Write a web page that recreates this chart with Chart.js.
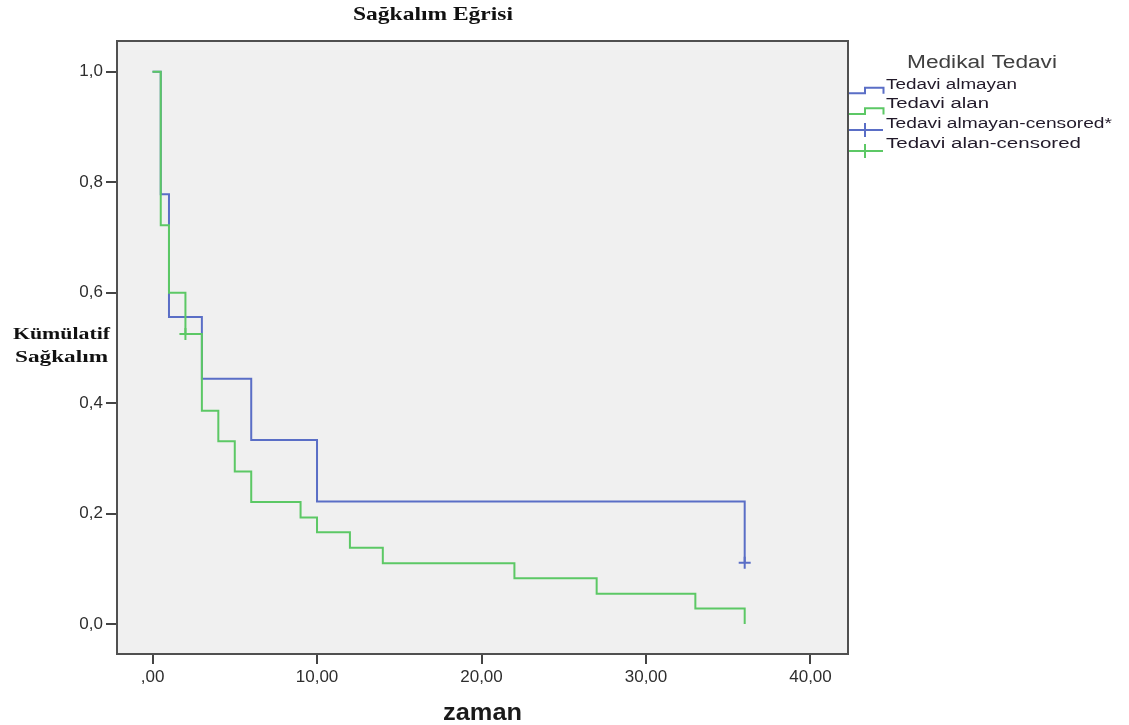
<!DOCTYPE html>
<html>
<head>
<meta charset="utf-8">
<script src="https://cdn.jsdelivr.net/npm/chart.js@4/dist/chart.umd.min.js"></script>
<style>
  html, body { margin: 0; padding: 0; background: #ffffff; }
  #wrap { width: 1129px; height: 725px; position: relative; }
</style>
</head>
<body>
<div id="wrap"><canvas id="c"></canvas></div>
<script>
// ---- data ----
const groupNames = ['Tedavi almayan', 'Tedavi alan'];
const legendLabels = ['Tedavi almayan', 'Tedavi alan', 'Tedavi almayan-censored*', 'Tedavi alan-censored'];

const almayanTimes    = [0, 0.5, 1, 3, 6, 10, 36];
const almayanSurvival = [1.0, 0.778, 0.556, 0.444, 0.333, 0.222, 0.111];

const alanTimes    = [0, 0.5, 1, 2, 3, 4, 5, 6, 9, 10, 12, 14, 22, 27, 33, 36];
const alanSurvival = [1.0, 0.722, 0.6, 0.525, 0.386, 0.331, 0.276, 0.221, 0.193, 0.166, 0.138, 0.110, 0.083, 0.055, 0.028, 0.0];

const almayanCensoredTimes    = [36];
const almayanCensoredSurvival = [0.111];
const alanCensoredTimes    = [2];
const alanCensoredSurvival = [0.525];

const xTicks = [0, 10, 20, 30, 40];
const xTickLabels = [',00', '10,00', '20,00', '30,00', '40,00'];
const yTicks = [0, 0.2, 0.4, 0.6, 0.8, 1.0];
const yTickLabels = ['0,0', '0,2', '0,4', '0,6', '0,8', '1,0'];

const chartTitle = 'Sağkalım Eğrisi';
const yTitleLines = ['Kümülatif', 'Sağkalım'];
const xTitle = 'zaman';
const legendTitle = 'Medikal Tedavi';

// ---- styles ----
const BLUE = '#5a6ec6';
const GREEN = '#5cc865';
const toPts = (xs, ys) => xs.map((x, i) => ({ x: x, y: ys[i] }));

function fitText(ctx, text, font, color, x, baseline, targetWidth) {
  ctx.save();
  ctx.font = font;
  ctx.fillStyle = color;
  ctx.textBaseline = 'alphabetic';
  ctx.textAlign = 'left';
  const w = ctx.measureText(text).width;
  const sx = targetWidth / w;
  ctx.translate(x, baseline);
  ctx.scale(sx, 1);
  ctx.fillText(text, 0, 0);
  ctx.restore();
}

const decorPlugin = {
  id: 'decor',
  beforeDraw(chart) {
    const { ctx, chartArea: a } = chart;
    ctx.save();
    ctx.fillStyle = '#f0f0f0';
    ctx.fillRect(a.left, a.top, a.right - a.left, a.bottom - a.top);
    ctx.restore();
  },
  afterDraw(chart) {
    const { ctx, chartArea: a } = chart;
    ctx.save();
    ctx.strokeStyle = '#505050';
    ctx.lineWidth = 2;
    ctx.strokeRect(a.left, a.top, a.right - a.left, a.bottom - a.top);
    ctx.restore();

    fitText(ctx, chartTitle, 'bold 19px "Liberation Serif", "Times New Roman", serif', '#111', 353, 20, 160);
    fitText(ctx, yTitleLines[0], 'bold 17px "Liberation Serif", "Times New Roman", serif', '#111', 13, 339, 97);
    fitText(ctx, yTitleLines[1], 'bold 17px "Liberation Serif", "Times New Roman", serif', '#111', 15, 362, 93);
    fitText(ctx, xTitle, 'bold 23px "Liberation Sans", Arial, sans-serif', '#1a1a1a', 443, 720, 79);

    const lx = a.right + 1;
    fitText(ctx, legendTitle, '18px "Liberation Sans", Arial, sans-serif', '#404040', 907, 68, 150);
    const rows = [
      { label: legendLabels[0], color: BLUE, kind: 'step', base: 93.3, top: 87.7, textBase: 88.5, w: 131 },
      { label: legendLabels[1], color: GREEN, kind: 'step', base: 114, top: 108.3, textBase: 108.3, w: 103 },
      { label: legendLabels[2], color: BLUE, kind: 'cross', y: 130, textBase: 127.5, w: 226 },
      { label: legendLabels[3], color: GREEN, kind: 'cross', y: 151, textBase: 147.5, w: 195 }
    ];
    rows.forEach(r => {
      ctx.save();
      ctx.strokeStyle = r.color;
      ctx.lineWidth = 2;
      ctx.beginPath();
      if (r.kind === 'step') {
        ctx.moveTo(lx, r.base);
        ctx.lineTo(865, r.base);
        ctx.lineTo(865, r.top);
        ctx.lineTo(883.5, r.top);
        ctx.lineTo(883.5, r.base + 0.5);
      } else {
        ctx.moveTo(lx, r.y);
        ctx.lineTo(883, r.y);
        ctx.moveTo(865, r.y - 7);
        ctx.lineTo(865, r.y + 7);
      }
      ctx.stroke();
      ctx.restore();
      fitText(ctx, r.label, '14px "Liberation Sans", Arial, sans-serif', '#221a2a', 886, r.textBase, r.w);
    });
  }
};

const ctx = document.getElementById('c').getContext('2d');
new Chart(ctx, {
  type: 'scatter',
  data: {
    datasets: [
      {
        label: legendLabels[2],
        data: toPts(almayanCensoredTimes, almayanCensoredSurvival),
        showLine: false, pointStyle: 'cross', pointRadius: 6, pointBorderWidth: 2,
        borderColor: BLUE, backgroundColor: BLUE, order: 0
      },
      {
        label: legendLabels[3],
        data: toPts(alanCensoredTimes, alanCensoredSurvival),
        showLine: false, pointStyle: 'cross', pointRadius: 6, pointBorderWidth: 2,
        borderColor: GREEN, backgroundColor: GREEN, order: 0
      },
      {
        label: groupNames[1],
        data: toPts(alanTimes, alanSurvival),
        showLine: true, stepped: true, pointRadius: 0, borderWidth: 2,
        borderColor: GREEN, backgroundColor: GREEN, fill: false, order: 1
      },
      {
        label: groupNames[0],
        data: toPts(almayanTimes, almayanSurvival),
        showLine: true, stepped: true, pointRadius: 0, borderWidth: 2,
        borderColor: BLUE, backgroundColor: BLUE, fill: false, order: 2
      }
    ]
  },
  options: {
    responsive: true,
    maintainAspectRatio: false,
    animation: false,
    events: [],
    layout: { padding: { left: 0, right: 281, top: 41, bottom: 0 } },
    plugins: { legend: { display: false }, tooltip: { enabled: false }, title: { display: false } },
    scales: {
      x: {
        type: 'linear',
        min: -2.16, max: 42.28,
        afterBuildTicks: s => { s.ticks = xTicks.map(v => ({ value: v })); },
        afterFit: s => { s.height = 71; },
        border: { display: false },
        grid: { drawOnChartArea: false, drawTicks: true, tickLength: 10, color: '#444', lineWidth: 2 },
        ticks: {
          padding: 3,
          maxRotation: 0,
          autoSkip: false,
          color: '#2e2e2e',
          font: { family: '"Liberation Sans", Arial, sans-serif', size: 17 },
          callback: v => { const i = xTicks.indexOf(v); return i >= 0 ? xTickLabels[i] : ''; }
        }
      },
      y: {
        type: 'linear',
        min: -0.0543, max: 1.0556,
        afterBuildTicks: s => { s.ticks = yTicks.map(v => ({ value: v })); },
        afterFit: s => { s.width = 117; },
        border: { display: false },
        grid: { drawOnChartArea: false, drawTicks: true, tickLength: 11, color: '#444', lineWidth: 2 },
        ticks: {
          padding: 3,
          autoSkip: false,
          color: '#2e2e2e',
          font: { family: '"Liberation Sans", Arial, sans-serif', size: 17 },
          callback: v => { const i = yTicks.findIndex(t => Math.abs(t - v) < 1e-9); return i >= 0 ? yTickLabels[i] : ''; }
        }
      }
    }
  },
  plugins: [decorPlugin]
});
</script>
</body>
</html>
